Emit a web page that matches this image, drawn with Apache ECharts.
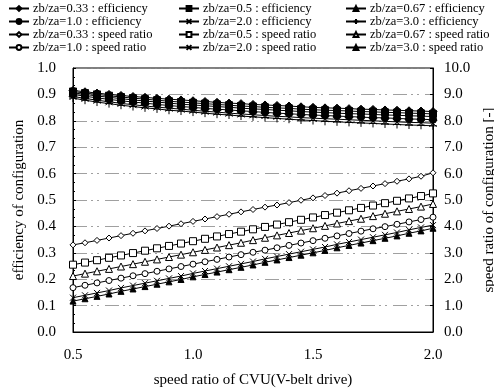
<!DOCTYPE html>
<html>
<head>
<meta charset="utf-8">
<script src="https://cdn.jsdelivr.net/npm/echarts@6/dist/echarts.min.js"></script>
<style>
  html, body { margin: 0; padding: 0; background: #fff; }
  #main { width: 494px; height: 391px; }
</style>
</head>
<body>
<div id="main"></div>
<script>
// speed ratio of CVU (x axis)
const xs = [0.50, 0.55, 0.60, 0.65, 0.70, 0.75, 0.80, 0.85, 0.90, 0.95, 1.00,
  1.05, 1.10, 1.15, 1.20, 1.25, 1.30, 1.35, 1.40, 1.45, 1.50,
  1.55, 1.60, 1.65, 1.70, 1.75, 1.80, 1.85, 1.90, 1.95, 2.00];

// efficiency (left axis)
const eff033 = [0.915, 0.910, 0.905, 0.900, 0.896, 0.892, 0.889, 0.885, 0.882, 0.879, 0.876,
  0.873, 0.870, 0.867, 0.865, 0.862, 0.860, 0.858, 0.856, 0.853, 0.851,
  0.849, 0.848, 0.846, 0.844, 0.843, 0.841, 0.840, 0.838, 0.837, 0.835];
const eff05 = [0.911, 0.905, 0.900, 0.895, 0.890, 0.886, 0.882, 0.878, 0.874, 0.871, 0.868,
  0.865, 0.862, 0.859, 0.856, 0.854, 0.851, 0.849, 0.847, 0.844, 0.842,
  0.840, 0.839, 0.837, 0.835, 0.834, 0.832, 0.831, 0.829, 0.828, 0.826];
const eff067 = [0.906, 0.900, 0.894, 0.889, 0.884, 0.879, 0.875, 0.871, 0.867, 0.863, 0.860,
  0.857, 0.854, 0.851, 0.848, 0.845, 0.843, 0.840, 0.838, 0.835, 0.833,
  0.831, 0.829, 0.827, 0.826, 0.824, 0.822, 0.821, 0.819, 0.818, 0.816];
const eff10 = [0.900, 0.893, 0.887, 0.881, 0.876, 0.871, 0.867, 0.862, 0.858, 0.854, 0.851,
  0.847, 0.844, 0.841, 0.838, 0.835, 0.832, 0.829, 0.827, 0.824, 0.822,
  0.820, 0.818, 0.816, 0.814, 0.812, 0.811, 0.809, 0.807, 0.806, 0.804];
const eff20 = [0.892, 0.885, 0.878, 0.872, 0.866, 0.861, 0.856, 0.852, 0.848, 0.844, 0.840,
  0.836, 0.833, 0.829, 0.826, 0.823, 0.820, 0.817, 0.815, 0.812, 0.810,
  0.808, 0.806, 0.804, 0.802, 0.800, 0.798, 0.796, 0.794, 0.793, 0.791];
const eff30 = [0.886, 0.878, 0.871, 0.865, 0.859, 0.854, 0.849, 0.845, 0.840, 0.837, 0.833,
  0.829, 0.825, 0.822, 0.818, 0.815, 0.812, 0.809, 0.806, 0.803, 0.801,
  0.798, 0.796, 0.794, 0.792, 0.790, 0.788, 0.786, 0.784, 0.783, 0.781];

// speed ratio of configuration (right axis)
const sr033 = [3.30, 3.38, 3.47, 3.56, 3.65, 3.74, 3.83, 3.92, 4.01, 4.10, 4.19,
  4.28, 4.37, 4.46, 4.55, 4.64, 4.73, 4.81, 4.90, 4.99, 5.08,
  5.17, 5.26, 5.35, 5.44, 5.53, 5.62, 5.71, 5.80, 5.90, 6.03];
const sr05 = [2.55, 2.63, 2.72, 2.81, 2.90, 2.99, 3.08, 3.17, 3.26, 3.35, 3.44,
  3.53, 3.62, 3.71, 3.80, 3.89, 3.98, 4.07, 4.16, 4.25, 4.34,
  4.43, 4.52, 4.61, 4.70, 4.79, 4.88, 4.97, 5.06, 5.15, 5.25];
const sr067 = [2.12, 2.21, 2.30, 2.39, 2.48, 2.57, 2.66, 2.75, 2.84, 2.93, 3.02,
  3.11, 3.20, 3.29, 3.38, 3.48, 3.57, 3.66, 3.75, 3.84, 3.93,
  4.02, 4.11, 4.20, 4.29, 4.39, 4.48, 4.57, 4.66, 4.75, 4.85];
const sr10 = [1.68, 1.77, 1.86, 1.95, 2.04, 2.13, 2.21, 2.30, 2.39, 2.48, 2.57,
  2.66, 2.75, 2.84, 2.93, 3.02, 3.10, 3.19, 3.28, 3.37, 3.46,
  3.55, 3.64, 3.73, 3.82, 3.91, 3.99, 4.08, 4.17, 4.26, 4.35];
const sr20 = [1.30, 1.39, 1.48, 1.57, 1.67, 1.76, 1.85, 1.94, 2.03, 2.12, 2.22,
  2.31, 2.40, 2.49, 2.58, 2.67, 2.77, 2.86, 2.95, 3.04, 3.13,
  3.22, 3.32, 3.41, 3.50, 3.59, 3.68, 3.77, 3.87, 3.96, 4.05];
const sr30 = [1.17, 1.26, 1.35, 1.44, 1.54, 1.63, 1.72, 1.81, 1.90, 1.99, 2.09,
  2.18, 2.27, 2.36, 2.45, 2.54, 2.64, 2.73, 2.82, 2.91, 3.00,
  3.09, 3.19, 3.28, 3.37, 3.46, 3.55, 3.64, 3.74, 3.83, 3.93];

const FONT = '"Liberation Serif", "DejaVu Serif", serif';
const X_PATH = 'path://M0,0L10,10M10,0L0,10';
const PLUS_PATH = 'path://M5,0L5,10M0,5L10,5';

function mk(name, data, axis, symbol, size, hollow) {
  return {
    name: name,
    type: 'line',
    yAxisIndex: axis,
    data: xs.map((x, i) => [x, data[i]]),
    symbol: symbol,
    symbolSize: size,
    showAllSymbol: true,
    lineStyle: { color: '#000', width: 1 },
    itemStyle: { color: hollow ? '#fff' : '#000', borderColor: '#000', borderWidth: 1 },
    emphasis: { disabled: true },
    animation: false,
    z: axis === 0 ? 3 : 2
  };
}

const series = [
  mk('zb/za=0.33 : efficiency', eff033, 0, 'diamond', 8, false),
  mk('zb/za=0.5 : efficiency', eff05, 0, 'rect', 7, false),
  mk('zb/za=0.67 : efficiency', eff067, 0, 'triangle', 8, false),
  mk('zb/za=1.0 : efficiency', eff10, 0, 'circle', 7, false),
  mk('zb/za=2.0 : efficiency', eff20, 0, X_PATH, 7, false),
  mk('zb/za=3.0 : efficiency', eff30, 0, PLUS_PATH, 8, false),
  mk('zb/za=0.33 : speed ratio', sr033, 1, 'diamond', 6, true),
  mk('zb/za=0.5 : speed ratio', sr05, 1, 'rect', 7, true),
  mk('zb/za=0.67 : speed ratio', sr067, 1, 'triangle', 7, true),
  mk('zb/za=1.0 : speed ratio', sr10, 1, 'circle', 6, true),
  mk('zb/za=2.0 : speed ratio', sr20, 1, X_PATH, 6, false),
  mk('zb/za=3.0 : speed ratio', sr30, 1, 'triangle', 6, false)
];

const legendCols = [
  ['zb/za=0.33 : efficiency', 'zb/za=1.0 : efficiency', 'zb/za=0.33 : speed ratio', 'zb/za=1.0 : speed ratio'],
  ['zb/za=0.5 : efficiency', 'zb/za=2.0 : efficiency', 'zb/za=0.5 : speed ratio', 'zb/za=2.0 : speed ratio'],
  ['zb/za=0.67 : efficiency', 'zb/za=3.0 : efficiency', 'zb/za=0.67 : speed ratio', 'zb/za=3.0 : speed ratio']
];
const legendLeft = [8, 178, 345];

const legend = legendCols.map((col, i) => ({
  data: col,
  orient: 'vertical',
  left: legendLeft[i],
  top: 2,
  padding: 0,
  itemWidth: 20,
  itemHeight: 6,
  itemGap: 0,
  selectedMode: false,
  textStyle: { fontFamily: FONT, fontSize: 12.5, lineHeight: 12, color: '#000', padding: [0, 0, 0, -1] }
}));

const axisText = { fontFamily: FONT, fontSize: 15, color: '#000' };

const option = {
  animation: false,
  legend: legend,
  grid: {
    left: 73, right: 61, top: 68, bottom: 59,
    outerBoundsMode: 'none',
    containLabel: false,
    show: true, borderColor: '#000', borderWidth: 1, backgroundColor: 'transparent'
  },
  xAxis: {
    type: 'value',
    min: 0.5, max: 2.0, interval: 0.5,
    name: 'speed ratio of CVU(V-belt drive)',
    nameLocation: 'middle',
    nameGap: 41,
    nameTextStyle: { fontFamily: FONT, fontSize: 15, color: '#000' },
    axisLine: { show: true, lineStyle: { color: '#000', width: 1 } },
    axisTick: { show: false },
    axisLabel: Object.assign({ margin: 16, formatter: v => v.toFixed(1) }, axisText),
    splitLine: { show: false }
  },
  yAxis: [
    {
      type: 'value',
      min: 0, max: 1, interval: 0.1,
      name: 'efficiency of configuration',
      nameLocation: 'middle',
      nameGap: 43,
      nameRotate: 90,
      nameTextStyle: { fontFamily: FONT, fontSize: 15, color: '#000' },
      axisLine: { show: true, lineStyle: { color: '#000', width: 1 } },
      axisTick: { show: true, inside: true, length: 3, lineStyle: { color: '#000' } },
      minorTick: { show: true, splitNumber: 3, length: 2, lineStyle: { color: '#000' } },
      axisLabel: Object.assign({ margin: 17, formatter: v => v.toFixed(1) }, axisText),
      splitLine: { show: true, lineStyle: { color: '#888', width: 0.8, type: [14, 4, 2, 4, 2, 6] } }
    },
    {
      type: 'value',
      min: 0, max: 10, interval: 1,
      position: 'right',
      name: 'speed ratio of configuration [-]',
      nameLocation: 'middle',
      nameGap: 46,
      nameRotate: 90,
      nameTextStyle: { fontFamily: FONT, fontSize: 15, color: '#000' },
      axisLine: { show: true, lineStyle: { color: '#000', width: 1 } },
      axisTick: { show: true, inside: true, length: 3, lineStyle: { color: '#000' } },
      axisLabel: Object.assign({ margin: 11, formatter: v => v.toFixed(1) }, axisText),
      splitLine: { show: false }
    }
  ],
  series: series
};

const chart = echarts.init(document.getElementById('main'), null, { renderer: 'canvas' });
chart.setOption(option);
</script>
</body>
</html>
